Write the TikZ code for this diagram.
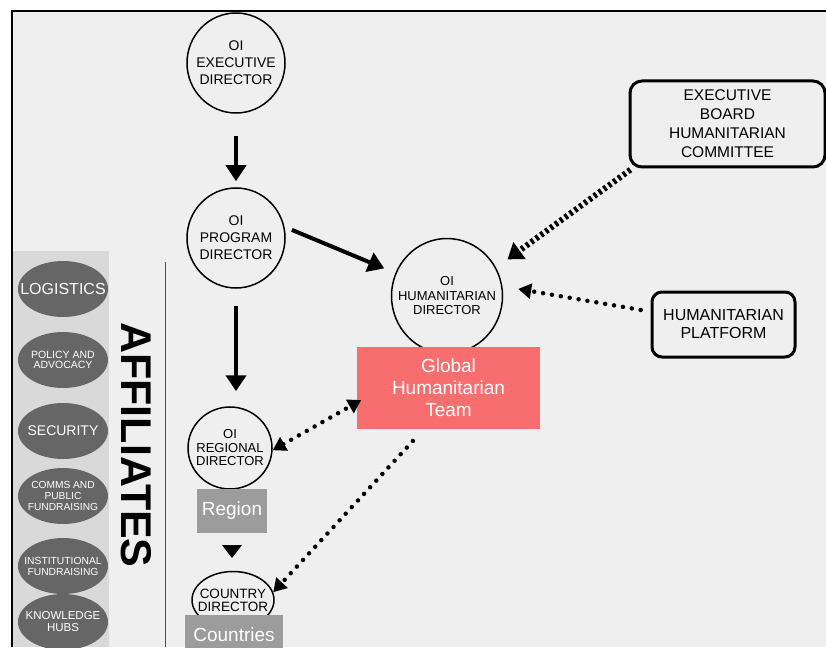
\documentclass[tikz,border=0pt]{standalone}
\usepackage{fontspec}
\setmainfont{Liberation Sans}
\usetikzlibrary{arrows.meta,shapes.geometric}
\definecolor{bg}{HTML}{EFEFEF}
\definecolor{panel}{HTML}{D9D9D9}
\definecolor{darkell}{HTML}{666666}
\definecolor{teamred}{HTML}{F86E6E}
\definecolor{boxgray}{HTML}{9C9C9C}
\newcommand{\fsz}[2]{\fontsize{#1}{#2}\selectfont}
\begin{document}
\begin{tikzpicture}[x=1pt,y=-1pt,
  person/.style={ellipse, draw=black, line width=1.5pt, inner sep=0pt},
  aff/.style={ellipse, fill=darkell, inner sep=0pt, minimum width=90pt, minimum height=56pt},
  intext/.style={align=center, inner sep=0pt},
  graybox/.style={rectangle, fill=boxgray, inner sep=0pt, text=white, font=\fsz{19}{22}},
  roundbox/.style={rectangle, rounded corners=12pt, draw=black, line width=3pt, inner sep=0pt, align=center, text=black},
  solidarrow/.style={line width=4pt, -{Triangle[width=20pt,length=16pt]}},
  dotarrow/.style={line width=4.5pt, line cap=round, dash pattern=on 0pt off 9pt},
  dottip/.style={-{Triangle[width=15pt,length=13pt]}},
  boardarrow/.style={line width=6pt, dash pattern=on 3pt off 3pt, -{Triangle[width=20pt,length=15pt]}}
]
\useasboundingbox (0,0) rectangle (826,647);
\clip (0,0) rectangle (826,647);
\fill[white] (0,0) rectangle (826,647);
\fill[bg] (12,11) rectangle (826,647);
\draw[line width=1.5pt] (12,647) -- (12,11) -- (826,11);

% left panel
\fill[panel] (13,251) rectangle (109,647);
\node[aff, label={[intext, text=white, font=\fsz{16}{18}]center:LOGISTICS}] (logi) at (63,289) {};
\node[aff, label={[intext, text=white, font=\fsz{10.5}{10}]center:POLICY AND\\ADVOCACY}] (policy) at (63,360) {};
\node[aff, label={[intext, text=white, font=\fsz{14}{16}]center:SECURITY}] (secu) at (63,431) {};
\node[aff, label={[intext, text=white, font=\fsz{10.2}{11}]center:COMMS AND\\PUBLIC\\FUNDRAISING}] (comms) at (63,496) {};
\node[aff, label={[intext, text=white, font=\fsz{10.3}{11}]center:INSTITUTIONAL\\FUNDRAISING}] (inst) at (63,566) {};
\node[aff, label={[intext, text=white, font=\fsz{11.5}{12}]center:KNOWLEDGE\\HUBS}] (know) at (63,622) {};

\node[rotate=-90, inner sep=0pt, font=\bfseries\fsz{43}{43}] (affil) at (136,445) {AFFILIATES};
\coordinate (vtop) at (165,262);
\coordinate (vbot) at (165,647);
\draw[line width=1pt, black!70] (vtop) -- (vbot);

% people
\node[person, minimum width=98pt, minimum height=100pt, label={[intext, font=\fsz{14}{17}]center:OI\\EXECUTIVE\\DIRECTOR}] (exec) at (236,63) {};
\node[person, minimum width=98pt, minimum height=100pt, label={[intext, font=\fsz{14}{17}]center:OI\\PROGRAM\\DIRECTOR}] (prog) at (236,238) {};
\node[person, minimum width=111pt, minimum height=115pt, label={[intext, font=\fsz{13}{14.5}]center:OI\\HUMANITARIAN\\DIRECTOR}] (hum) at (447,296) {};
\node[person, minimum width=84pt, minimum height=82pt, label={[intext, font=\fsz{13}{13.5}]center:OI\\REGIONAL\\DIRECTOR}] (reg) at (230,448) {};
\node[person, minimum width=82pt, minimum height=57pt, label={[intext, font=\fsz{13.5}{13}]center:COUNTRY\\DIRECTOR}] (ctry) at (233,600) {};

\node[rectangle, fill=teamred, inner sep=0pt, minimum width=183pt, minimum height=82pt, align=center, text=white, font=\fsz{19}{22}] (ght) at (448.5,388) {Global\\Humanitarian\\Team};
\node[graybox, minimum width=70pt, minimum height=44pt] (region) at (232,511) {Region};
\node[graybox, minimum width=98pt, minimum height=40pt, anchor=north] (countries) at (234,615) {Countries};

\node[roundbox, minimum width=195pt, minimum height=86pt, font=\fsz{15.5}{19}] (board) at (727.5,124) {EXECUTIVE\\BOARD\\HUMANITARIAN\\COMMITTEE};
\node[roundbox, rounded corners=10pt, minimum width=143pt, minimum height=65pt, font=\fsz{16}{18}] (plat) at (723.5,324.5) {HUMANITARIAN\\PLATFORM};

% region -> country marker
\coordinate (t1) at (222,545);
\coordinate (t2) at (242,545);
\coordinate (t3) at (232,558);
\fill (t1) -- (t2) -- (t3) -- cycle;

% solid arrows
\draw[solidarrow, shorten <=22pt, shorten >=6pt] (exec) -- (prog);
\draw[solidarrow, shorten <=8pt, shorten >=12pt] (prog.13) -- (hum.156);
\draw[solidarrow, shorten <=17pt, shorten >=15pt] (prog.south) -- (prog.south |- reg.north);

% dotted arrows
\draw[boardarrow, shorten <=2pt, shorten >=14pt] (board.-155) -- (hum.30);
\draw[dotarrow, dottip, shorten <=10pt, shorten >=16pt] (plat.170) -- (hum.10);
\draw[dotarrow, {Triangle[width=15pt,length=13pt]}-{Triangle[width=15pt,length=13pt]}, shorten <=0pt, shorten >=-5pt] (reg.-3) -- (ght.189);
\draw[dotarrow, dottip, shorten <=16pt, shorten >=0pt] (ght.-121) -- (ctry.11);
\end{tikzpicture}
\end{document}
